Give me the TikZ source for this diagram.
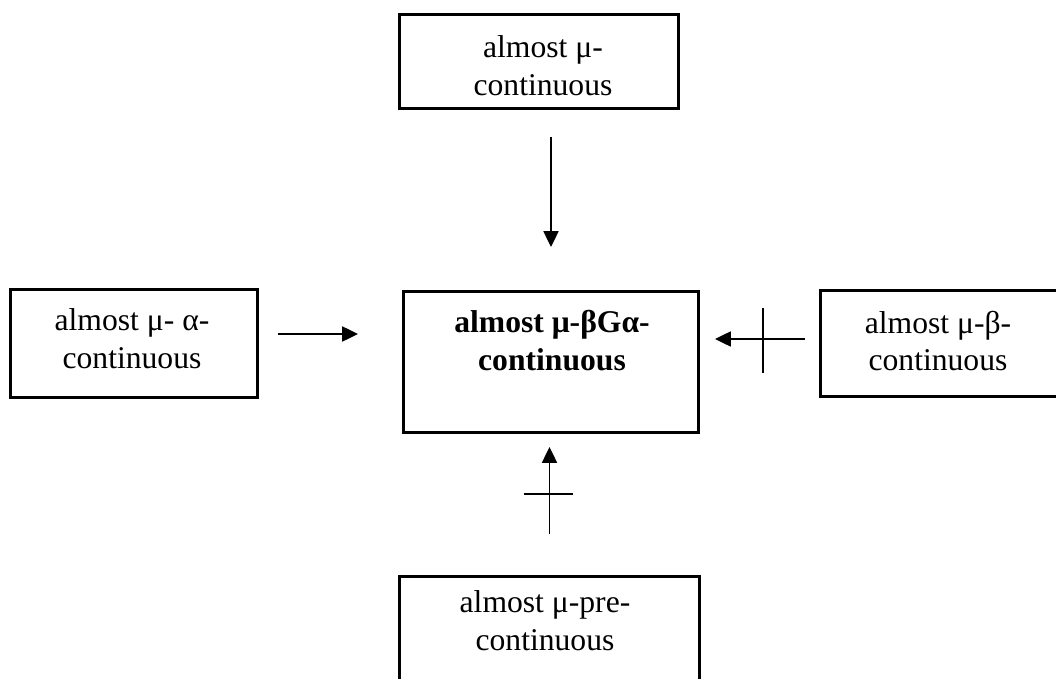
\documentclass[tikz,border=0pt]{standalone}
\usepackage{fontspec}
\setmainfont{Liberation Serif}
\usetikzlibrary{arrows.meta}

\begin{document}
\begin{tikzpicture}[x=0.02cm, y=-0.02cm, >={Triangle[length=9pt, width=8.5pt]}, box/.style={draw, line width=1.9pt, outer sep=0pt, inner sep=0pt}, txt/.style={align=center, font=\fontsize{18pt}{21.6pt}\selectfont, inner sep=0pt}, arr/.style={->, line width=1.1pt}, cross/.style={line width=0.7pt}]
	\useasboundingbox (0,0) rectangle (1056,679);
	\clip (0,0) rectangle (1056,679);
	% boxes
	\node[box, minimum width=5.58cm, minimum height=1.88cm] (muTop) at (539,61.5) {};
	\node[box, minimum width=4.94cm, minimum height=2.16cm] (alpha) at (134,343.5) {};
	\node[box, minimum width=5.90cm, minimum height=2.82cm] (main) at (551,362) {};
	\node[box, minimum width=4.99cm, minimum height=2.12cm] (beta) at (945,343.5) {};
	\node[box, minimum width=6.00cm, minimum height=2.46cm] (pre) at (549.5,638) {};
	% texts
	\node[txt] (muTopT) at (543,66) {almost μ-\\continuous};
	\node[txt] (alphaT) at (132,339) {almost μ- α-\\continuous};
	\node[txt, font=\fontsize{18pt}{21.6pt}\selectfont\bfseries] (mainT) at (552,341) {almost μ-βGα-\\continuous};
	\node[txt] (betaT) at (938,341) {almost μ-β-\\continuous};
	\node[txt] (preT) at (545,621) {almost μ-pre-\\continuous};
	% implications
	\coordinate (aOut) at ([yshift=0.19cm]alpha.east);
	\coordinate (bOut) at ([yshift=0.09cm]beta.west);
	\draw[arr, shorten <=0.57cm, shorten >=0.89cm] (main.north |- muTop.south) -- (main.north);
	\draw[arr, shorten <=0.41cm, shorten >=0.91cm] (aOut) -- (aOut -| main.west);
	\draw[arr, shorten <=0.31cm, shorten >=0.33cm] (bOut) -- (bOut -| main.east) coordinate[pos=0.471] (xR);
	\draw[arr, shorten <=0.85cm, shorten >=0.29cm] (pre.north) -- (pre.north |- main.south) coordinate[pos=0.573] (xB);
	\draw[cross] ([yshift=0.62cm]xR) -- ([yshift=-0.68cm]xR);
	\draw[cross] ([xshift=-0.52cm]xB) -- ([xshift=0.48cm]xB);
\end{tikzpicture}
\end{document}
